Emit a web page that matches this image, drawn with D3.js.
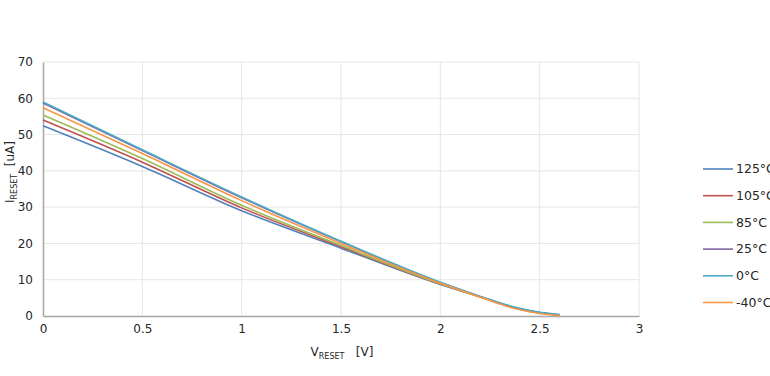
<!DOCTYPE html>
<html>
<head>
<meta charset="utf-8">
<script src="https://cdn.jsdelivr.net/npm/d3@7"></script>
<style>
  body { margin: 0; background: #fff; }
  svg { display: block; font-family: Tahoma, "DejaVu Sans", sans-serif; }
</style>
</head>
<body>
<svg id="chart" width="770" height="376"></svg>
<script>
// V_RESET sample points (V)
const vReset = [0, 0.5, 1.0, 1.5, 2.0, 2.2, 2.4, 2.5, 2.6];

// I_RESET (uA) per temperature
const i125 = [52.4, 41.2, 29.0, 18.7, 8.7, 5.3, 1.9, 0.9, 0.25];
const i105 = [54.0, 42.4, 29.8, 19.1, 8.8, 5.3, 1.9, 0.9, 0.25];
const i85 = [55.4, 43.4, 30.5, 19.4, 8.9, 5.3, 1.9, 0.85, 0.25];
const i25 = [58.7, 45.6, 32.6, 20.5, 9.2, 5.4, 2.0, 0.95, 0.3];
const i0 = [59.0, 45.8, 32.8, 20.6, 9.3, 5.4, 2.1, 1.0, 0.4];
const iMinus40 = [57.4, 44.8, 31.8, 20.0, 9.0, 5.2, 1.7, 0.7, 0.1];

const seriesNames = ["125°C", "105°C", "85°C", "25°C", "0°C", "-40°C"];
const seriesValues = [i125, i105, i85, i25, i0, iMinus40];
const colors = ["#4F81BD", "#C0504D", "#9BBB59", "#8064A2", "#4BACC6", "#F79646"];

const xTicks = [0, 0.5, 1, 1.5, 2, 2.5, 3];
const yTicks = [0, 10, 20, 30, 40, 50, 60, 70];

const margin = { top: 62, left: 43 };
const width = 596, height = 254;

const svg = d3.select("#chart");
const g = svg.append("g").attr("transform", `translate(${margin.left},${margin.top})`);

const x = d3.scaleLinear().domain([0, 3]).range([0, width]);
const y = d3.scaleLinear().domain([0, 70]).range([height, 0]);

// gridlines
g.append("g")
  .selectAll("line.v")
  .data(xTicks.slice(1))
  .join("line")
  .attr("x1", d => x(d)).attr("x2", d => x(d))
  .attr("y1", 0).attr("y2", height)
  .attr("stroke", "#e6e6e6").attr("stroke-width", 1);

g.append("g")
  .selectAll("line.h")
  .data(yTicks.slice(1))
  .join("line")
  .attr("x1", 0).attr("x2", width)
  .attr("y1", d => y(d)).attr("y2", d => y(d))
  .attr("stroke", "#e6e6e6").attr("stroke-width", 1);

// axes
const xAxis = g.append("g")
  .attr("transform", `translate(0,${height})`)
  .call(d3.axisBottom(x).tickValues(xTicks).tickSize(0).tickPadding(8).tickFormat(d3.format("")));
const yAxis = g.append("g")
  .call(d3.axisLeft(y).tickValues(yTicks).tickSize(0).tickPadding(10));

[xAxis, yAxis].forEach(a => {
  a.select(".domain").attr("stroke", "#a6a6a6").attr("stroke-width", 1.5);
  a.selectAll("text").attr("fill", "#262626").style("font-size", "12px")
    .style("font-family", "Tahoma, 'DejaVu Sans', sans-serif");
});

// lines
const line = d3.line()
  .x(d => x(d[0]))
  .y(d => y(d[1]))
  .curve(d3.curveMonotoneX);

seriesValues.forEach((vals, i) => {
  g.append("path")
    .datum(vReset.map((v, k) => [v, vals[k]]))
    .attr("fill", "none")
    .attr("stroke", colors[i])
    .attr("stroke-width", 1.6)
    .attr("d", line);
});

// axis titles
const xTitle = svg.append("text")
  .attr("x", 342).attr("y", 356)
  .attr("text-anchor", "middle")
  .attr("fill", "#262626")
  .style("white-space", "pre")
  .style("font-size", "12px");
xTitle.append("tspan").text("V");
xTitle.append("tspan").attr("dy", 3).style("font-size", "8px").text("RESET");
xTitle.append("tspan").attr("dy", -3).text("   [V]");

const yTitle = svg.append("text")
  .attr("transform", "translate(14,172) rotate(-90)")
  .attr("text-anchor", "middle")
  .attr("fill", "#262626")
  .style("white-space", "pre")
  .style("font-size", "12px");
yTitle.append("tspan").text("I");
yTitle.append("tspan").attr("dy", 3).style("font-size", "8px").text("RESET");
yTitle.append("tspan").attr("dy", -3).text("  [uA]");

// legend
const legend = svg.append("g").attr("transform", "translate(703,169)");
seriesNames.forEach((name, i) => {
  const row = legend.append("g").attr("transform", `translate(0,${i * 26.7})`);
  row.append("line")
    .attr("x1", 0).attr("x2", 30)
    .attr("stroke", colors[i]).attr("stroke-width", 1.6);
  row.append("text")
    .attr("x", 33).attr("dy", "0.35em")
    .attr("fill", "#262626")
    .style("font-size", "12.5px")
    .text(name);
});
</script>
</body>
</html>
